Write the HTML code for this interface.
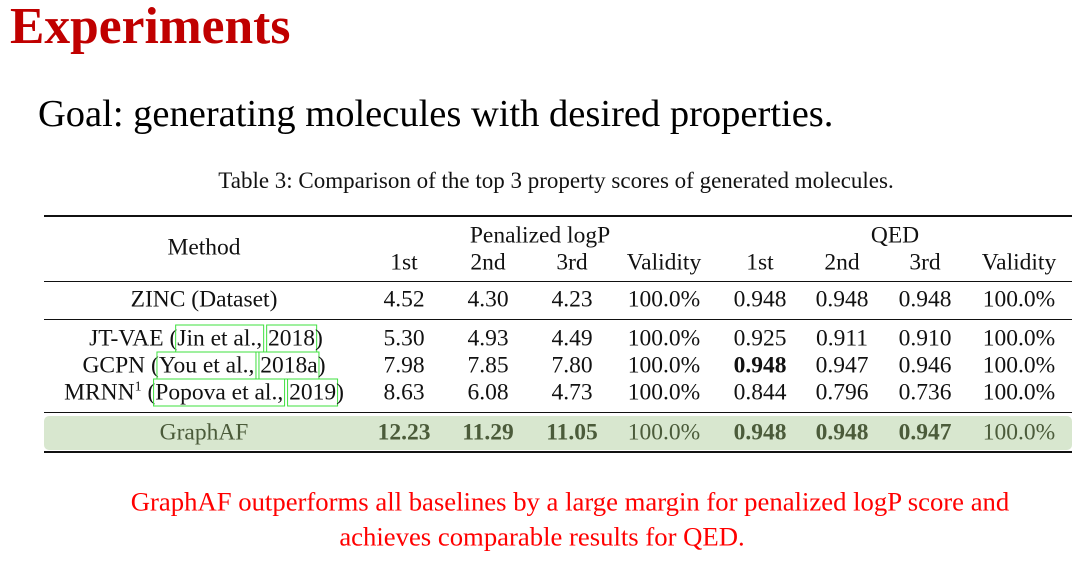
<!DOCTYPE html>
<html><head><meta charset="utf-8"><style>
body{margin:0;width:1080px;height:562px;background:#fff;position:relative;overflow:hidden;font-family:"Liberation Serif","Times New Roman",serif;color:#111}
.c{position:absolute;transform:translate(-50%,-50%);white-space:nowrap;font-size:23.5px}
.l{position:absolute;left:44px;width:1028px;background:#111}
.cite{border:1px solid #3fe03f;padding:0 1px;margin:0 -2px}
.g{color:#4b5b3a}
b{font-weight:bold}
</style></head><body>
<div style="position:absolute;left:10px;top:-3px;font-size:51.5px;font-weight:bold;color:#c00000">Experiments</div>
<div style="position:absolute;left:38px;top:92px;font-size:38.5px;color:#000">Goal: generating molecules with desired properties.</div>
<div class="c" style="left:556px;top:181px;font-size:23px">Table 3: Comparison of the top 3 property scores of generated molecules.</div>

<div style="position:absolute;left:44px;top:416px;width:1028px;height:34px;background:#d8e7cf;border-radius:5px"></div>
<div class="l" style="top:215px;height:2px"></div>
<div class="l" style="top:281px;height:1px"></div>
<div class="l" style="top:319px;height:1px"></div>
<div class="l" style="top:412px;height:1px"></div>
<div class="l" style="top:451px;height:2px"></div>

<div>
<div class="c" style="left:204px;top:248px">Method</div>
<div class="c" style="left:540px;top:236px">Penalized logP</div>
<div class="c" style="left:895px;top:236px">QED</div>
<div class="c" style="left:404px;top:263px">1st</div>
<div class="c" style="left:488px;top:263px">2nd</div>
<div class="c" style="left:572px;top:263px">3rd</div>
<div class="c" style="left:664px;top:263px">Validity</div>
<div class="c" style="left:760px;top:263px">1st</div>
<div class="c" style="left:842px;top:263px">2nd</div>
<div class="c" style="left:925px;top:263px">3rd</div>
<div class="c" style="left:1019px;top:263px">Validity</div>

<div class="c" style="left:204px;top:300px">ZINC (Dataset)</div>
<div class="c" style="left:404px;top:300px">4.52</div>
<div class="c" style="left:488px;top:300px">4.30</div>
<div class="c" style="left:572px;top:300px">4.23</div>
<div class="c" style="left:664px;top:300px">100.0%</div>
<div class="c" style="left:760px;top:300px">0.948</div>
<div class="c" style="left:842px;top:300px">0.948</div>
<div class="c" style="left:925px;top:300px">0.948</div>
<div class="c" style="left:1019px;top:300px">100.0%</div>

<div class="c" style="left:206px;top:339px">JT-VAE (<span class="cite">Jin et al.,</span> <span class="cite">2018</span>)</div>
<div class="c" style="left:404px;top:339px">5.30</div>
<div class="c" style="left:488px;top:339px">4.93</div>
<div class="c" style="left:572px;top:339px">4.49</div>
<div class="c" style="left:664px;top:339px">100.0%</div>
<div class="c" style="left:760px;top:339px">0.925</div>
<div class="c" style="left:842px;top:339px">0.911</div>
<div class="c" style="left:925px;top:339px">0.910</div>
<div class="c" style="left:1019px;top:339px">100.0%</div>

<div class="c" style="left:204px;top:366px">GCPN (<span class="cite">You et al.,</span> <span class="cite">2018a</span>)</div>
<div class="c" style="left:404px;top:366px">7.98</div>
<div class="c" style="left:488px;top:366px">7.85</div>
<div class="c" style="left:572px;top:366px">7.80</div>
<div class="c" style="left:664px;top:366px">100.0%</div>
<div class="c" style="left:760px;top:366px"><b>0.948</b></div>
<div class="c" style="left:842px;top:366px">0.947</div>
<div class="c" style="left:925px;top:366px">0.946</div>
<div class="c" style="left:1019px;top:366px">100.0%</div>

<div class="c" style="left:204px;top:393px">MRNN<sup style="font-size:14px">1</sup> (<span class="cite">Popova et al.,</span> <span class="cite">2019</span>)</div>
<div class="c" style="left:404px;top:393px">8.63</div>
<div class="c" style="left:488px;top:393px">6.08</div>
<div class="c" style="left:572px;top:393px">4.73</div>
<div class="c" style="left:664px;top:393px">100.0%</div>
<div class="c" style="left:760px;top:393px">0.844</div>
<div class="c" style="left:842px;top:393px">0.796</div>
<div class="c" style="left:925px;top:393px">0.736</div>
<div class="c" style="left:1019px;top:393px">100.0%</div>

<div class="c g" style="left:204px;top:433px">GraphAF</div>
<div class="c g" style="left:404px;top:433px"><b>12.23</b></div>
<div class="c g" style="left:488px;top:433px"><b>11.29</b></div>
<div class="c g" style="left:572px;top:433px"><b>11.05</b></div>
<div class="c g" style="left:664px;top:433px">100.0%</div>
<div class="c g" style="left:760px;top:433px"><b>0.948</b></div>
<div class="c g" style="left:842px;top:433px"><b>0.948</b></div>
<div class="c g" style="left:925px;top:433px"><b>0.947</b></div>
<div class="c g" style="left:1019px;top:433px">100.0%</div>
</div>

<div class="c" style="left:570px;top:502px;font-size:26.7px;color:#ff0000">GraphAF outperforms all baselines by a large margin for penalized logP score and</div>
<div class="c" style="left:542px;top:537px;font-size:26.7px;color:#ff0000">achieves comparable results for QED.</div>
</body></html>
